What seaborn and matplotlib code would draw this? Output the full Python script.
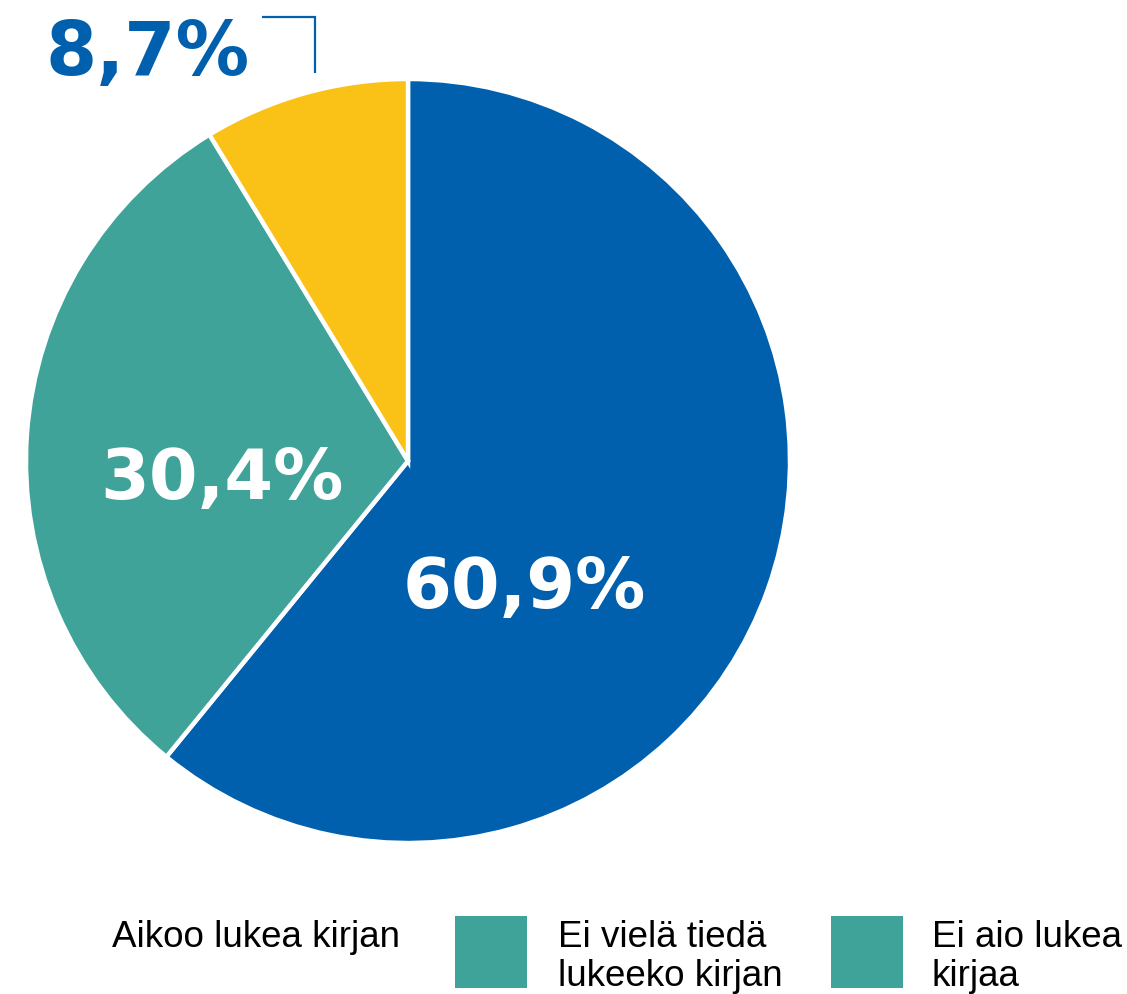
import matplotlib
matplotlib.use("Agg")
import matplotlib.pyplot as plt
from matplotlib.patches import Rectangle
import seaborn as sns

# Share of respondents
categories = ["Aikoo lukea kirjan", "Ei vielä tiedä\nlukeeko kirjan", "Ei aio lukea\nkirjaa"]
values = [60.9, 30.4, 8.7]
value_labels = ["60,9%", "30,4%", "8,7%"]

slice_colors = ["#0060AD", "#40A399", "#FAC117"]
legend_colors = [None, "#40A399", "#40A399"]

sns.set_theme(style="white")
plt.rcParams["font.family"] = ["Liberation Sans", "DejaVu Sans"]

W, H = 1127, 994
fig = plt.figure(figsize=(W / 100, H / 100), dpi=100)
ax = fig.add_axes([0, 0, 1, 1])

cx, cy, r = 408, H - 461, 382
wedges, _ = ax.pie(
    values,
    colors=slice_colors,
    startangle=90,
    counterclock=False,
    center=(cx, cy),
    radius=r,
    frame=True,
    wedgeprops=dict(edgecolor="white", linewidth=3.2),
)
ax.set_xlim(0, W)
ax.set_ylim(0, H)
ax.set_aspect("equal")
ax.set_axis_off()

# Value labels (x centre, baseline y, colour, size)
label_pos = [(524, H - 608, "white", 50.5),
             (222, H - 499, "white", 50.5),
             (148, H - 75, "#0060AD", 53)]
for (x, y, c, fs), txt in zip(label_pos, value_labels):
    ax.text(x, y, txt, ha="center", va="baseline", fontsize=fs,
            fontweight="bold", color=c, family="DejaVu Sans")

# Leader for the small slice
ax.plot([262, 315, 315], [H - 17, H - 17, H - 73], color="#0060AD",
        lw=1.6, solid_capstyle="butt", solid_joinstyle="miter")

# Legend
sw_x = [None, 455, 831]
txt_x = [112, 558, 932]
for cat, col, sx, tx in zip(categories, legend_colors, sw_x, txt_x):
    if col is not None:
        ax.add_patch(Rectangle((sx, H - 988), 72, 72, facecolor=col,
                               edgecolor="none"))
    lines = cat.split("\n")
    for i, line in enumerate(lines):
        ax.text(tx, H - 947 - 39 * i, line, ha="left", va="baseline",
                fontsize=26.5, color="black")

fig.savefig("out.png", dpi=100)
